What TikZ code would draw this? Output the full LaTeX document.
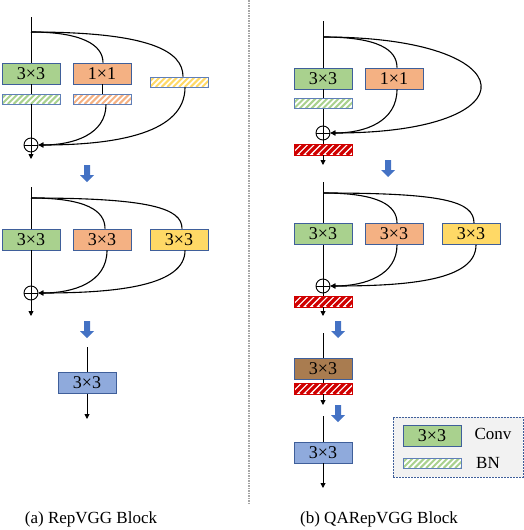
\documentclass[tikz,border=0pt]{standalone}
\usepackage{fontspec}
\setmainfont{Liberation Serif}
\usetikzlibrary{arrows.meta}
\definecolor{cgreen}{HTML}{A9D18E}
\definecolor{corange}{HTML}{F4B183}
\definecolor{cyellow}{HTML}{FFD966}
\definecolor{cblue}{HTML}{8FAADC}
\definecolor{cbrown}{HTML}{A97C50}
\definecolor{cborder}{HTML}{3F5F9A}
\definecolor{cbnborder}{HTML}{5F7FB8}
\definecolor{cred}{HTML}{D00000}
\definecolor{carrow}{HTML}{4472C4}
\definecolor{cdiv}{HTML}{A6A6A6}
\definecolor{clegend}{HTML}{F2F2F2}
\begin{document}
\begin{tikzpicture}[x=1pt,y=-1pt,
  conv/.style={draw=cborder,line width=0.9pt,minimum width=58pt,minimum height=21pt,inner sep=0pt,font=\fontsize{18}{20}\selectfont},
  bnbox/.style={draw=cbnborder,line width=0.9pt,minimum width=58pt,minimum height=10pt,inner sep=0pt,fill=white,
    path picture={\foreach \k in {-3,...,12}{\draw[#1,line width=2pt] ([xshift=\k*5.8pt]path picture bounding box.south west) -- ++(14,-14);}}},
  rbn/.style={draw=cred,line width=0.9pt,minimum width=58pt,minimum height=11pt,inner sep=0pt,fill=white,
    path picture={\foreach \k in {-3,...,12}{\draw[cred,line width=3.2pt] ([xshift=\k*6.6pt]path picture bounding box.south west) -- ++(14,-14);}}},
  plus/.style={circle,draw,line width=0.9pt,minimum size=14pt,inner sep=0pt,fill=white,path picture={\draw[line width=0.9pt] (path picture bounding box.north) -- (path picture bounding box.south) (path picture bounding box.west) -- (path picture bounding box.east);}},
  ln/.style={line width=0.9pt},
  arr/.style={line width=0.9pt,-{Triangle[length=5pt,width=5pt]}},
  crv/.style={line width=1.1pt},
  crva/.style={line width=1.1pt,-{Triangle[length=5pt,width=5pt]}},
  txt/.style={font=\fontsize{17}{19}\selectfont,inner sep=0pt},
  pics/bigarrow/.style={code={\fill[carrow] (-3,0)--(3,0)--(3,10)--(7,10)--(0,17)--(-7,10)--(-3,10)--cycle;}}
]
\useasboundingbox (0,0) rectangle (524,530);

% divider
\coordinate (divtop) at (249,0);
\coordinate (divbot) at (249,503);
\draw[cdiv,line width=1.5pt,dash pattern=on 1.5pt off 1pt] (divtop) -- (divbot);

% ---------------- (a) block 1
\coordinate (top1) at (31,17);
\coordinate (br1) at (31,32);
\node[conv,fill=cgreen] (g1) at (31,73.5) {3×3};
\node[conv,fill=corange] (o1) at (102,73.5) {1×1};
\node[bnbox=cgreen] (bg1) at (31,99) {};
\node[bnbox=corange] (bo1) at (102,99) {};
\node[bnbox=cyellow] (by1) at (179,82) {};
\node[plus] (p1) at (31,145) {};
\coordinate (end1) at (31,159);
\draw[ln] (top1) -- (g1.north);
\draw[ln] (g1.south) -- (bg1.north);
\draw[ln] (bg1.south) -- (p1.north);
\draw[arr] (p1.south) -- (end1);
\draw[ln] (o1.south) -- (bo1.north);
\draw[crv] (br1) .. controls +(50,0) and +(0,-18) .. ([xshift=1pt]o1.north);
\draw[crv] (br1) .. controls +(120,0) and +(0,-25) .. ([xshift=4pt]by1.north);
\draw[crva] ([xshift=4pt]bo1.south) .. controls +(0,30) and +(35,0) .. (p1.east);
\draw[crva] ([xshift=6pt]by1.south) .. controls +(0,45) and +(80,0) .. (p1.east);
\pic at (87,165) {bigarrow};

% ---------------- (a) block 2
\coordinate (top2) at (31,187);
\coordinate (br2) at (31,198);
\node[conv,fill=cgreen] (g2) at (31,239.5) {3×3};
\node[conv,fill=corange] (o2) at (102,239.5) {3×3};
\node[conv,fill=cyellow] (y2) at (179,239.5) {3×3};
\node[plus] (p2) at (31,293) {};
\coordinate (end2) at (31,316);
\draw[ln] (top2) -- (g2.north);
\draw[ln] (g2.south) -- (p2.north);
\draw[arr] (p2.south) -- (end2);
\draw[crv] (br2) .. controls +(55,0) and +(0,-18) .. ([xshift=3pt]o2.north);
\draw[crv] (br2) .. controls +(120,0) and +(0,-20) .. ([xshift=3pt]y2.north);
\draw[crva] ([xshift=5pt]o2.south) .. controls +(0,32) and +(35,0) .. (p2.east);
\draw[crva] ([xshift=6pt]y2.south) .. controls +(0,35) and +(80,0) .. (p2.east);
\pic at (87,321) {bigarrow};

% ---------------- (a) block 3
\coordinate (top3) at (87,347);
\node[conv,fill=cblue] (b3) at (87,383) {3×3};
\coordinate (end3) at (87,419);
\draw[ln] (top3) -- (b3.north);
\draw[arr] (b3.south) -- (end3);

\node[txt] (capa) at (91,519) {(a) RepVGG Block};

% ---------------- (b) block 1
\coordinate (topR1) at (323,21);
\coordinate (brR1) at (323,37);
\node[conv,fill=cgreen] (gR1) at (323,78.5) {3×3};
\node[conv,fill=corange] (oR1) at (394,78.5) {1×1};
\node[bnbox=cgreen] (bgR1) at (323,103.5) {};
\node[plus] (pR1) at (323,133) {};
\node[rbn] (rbnR1) at (323,149.5) {};
\coordinate (endR1) at (323,165);
\draw[ln] (topR1) -- (gR1.north);
\draw[ln] (gR1.south) -- (bgR1.north);
\draw[ln] (bgR1.south) -- (pR1.north);
\draw[ln] (pR1.south) -- (rbnR1.north);
\draw[arr] (rbnR1.south) -- (endR1);
\draw[crv] (brR1) .. controls +(55,0) and +(0,-18) .. ([xshift=3pt]oR1.north);
\draw[crva] (brR1) .. controls +(205,0) and +(205,0) .. (pR1.east);
\draw[crva] ([xshift=3pt]oR1.south) .. controls +(0,32) and +(35,0) .. (pR1.east);
\pic at (388,160) {bigarrow};

% ---------------- (b) block 2
\coordinate (topR2) at (323,182);
\coordinate (brR2) at (323,193);
\node[conv,fill=cgreen] (gR2) at (323,234) {3×3};
\node[conv,fill=corange] (oR2) at (394,234) {3×3};
\node[conv,fill=cyellow] (yR2) at (471,234) {3×3};
\node[plus] (pR2) at (323,286) {};
\node[rbn] (rbnR2) at (323,301.5) {};
\coordinate (endR2) at (323,316);
\draw[ln] (topR2) -- (gR2.north);
\draw[ln] (gR2.south) -- (pR2.north);
\draw[ln] (pR2.south) -- (rbnR2.north);
\draw[arr] (rbnR2.south) -- (endR2);
\draw[crv] (brR2) .. controls +(55,0) and +(0,-18) .. ([xshift=3pt]oR2.north);
\draw[crv] (brR2) .. controls +(120,0) and +(0,-22) .. ([xshift=3pt]yR2.north);
\draw[crva] ([xshift=3pt]oR2.south) .. controls +(0,30) and +(35,0) .. (pR2.east);
\draw[crva] ([xshift=5pt]yR2.south) .. controls +(0,35) and +(80,0) .. (pR2.east);
\pic at (338,321) {bigarrow};

% ---------------- (b) block 3
\coordinate (topR3) at (323,333);
\node[conv,fill=cbrown] (brn) at (323,368.5) {3×3};
\node[rbn] (rbnR3) at (323,388.5) {};
\coordinate (endR3) at (323,405);
\draw[ln] (topR3) -- (brn.north);
\draw[ln] (brn.south) -- (rbnR3.north);
\draw[arr] (rbnR3.south) -- (endR3);
\pic at (338,405) {bigarrow};

% ---------------- (b) block 4
\coordinate (topR4) at (323,416);
\node[conv,fill=cblue] (blR) at (323,452.5) {3×3};
\coordinate (endR4) at (323,488);
\draw[ln] (topR4) -- (blR.north);
\draw[arr] (blR.south) -- (endR4);

% legend
\node[draw=cborder,line width=0.9pt,dash pattern=on 2pt off 1pt,fill=clegend,minimum width=130pt,minimum height=60pt,inner sep=0pt] (leg) at (458,447) {};
\node[conv,fill=cgreen] (legconv) at (432,435.5) {3×3};
\node[bnbox=cgreen] (legbn) at (432,463) {};
\node[txt] (legconvt) at (493,434) {Conv};
\node[txt] (legbnt) at (488,463) {BN};

\node[txt] (capb) at (379,519) {(b) QARepVGG Block};
\end{tikzpicture}
\end{document}
